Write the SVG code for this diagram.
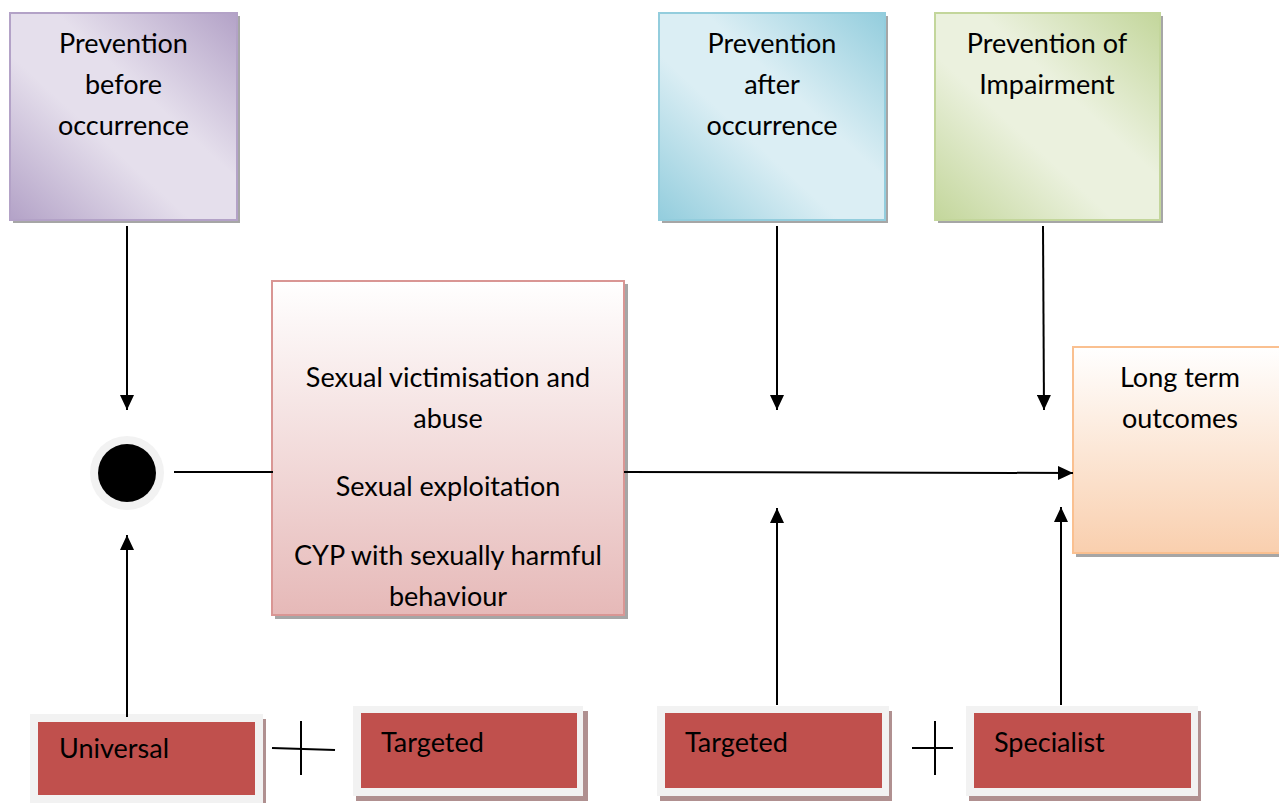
<svg xmlns="http://www.w3.org/2000/svg" width="1279" height="803" viewBox="0 0 1279 803">
<defs>
<linearGradient id="gPurple" x1="0" y1="1" x2="1" y2="0">
<stop offset="0" stop-color="#b3a2c7"/><stop offset="0.4" stop-color="#e5dfec"/><stop offset="0.6" stop-color="#e5dfec"/><stop offset="1" stop-color="#b3a2c7"/>
</linearGradient>
<linearGradient id="gBlue" x1="0" y1="1" x2="1" y2="0">
<stop offset="0" stop-color="#93cddd"/><stop offset="0.4" stop-color="#dbeef4"/><stop offset="0.6" stop-color="#dbeef4"/><stop offset="1" stop-color="#93cddd"/>
</linearGradient>
<linearGradient id="gGreen" x1="0" y1="1" x2="1" y2="0">
<stop offset="0" stop-color="#c3d69b"/><stop offset="0.4" stop-color="#ebf1de"/><stop offset="0.6" stop-color="#ebf1de"/><stop offset="1" stop-color="#c3d69b"/>
</linearGradient>
<linearGradient id="gPink" x1="0" y1="0" x2="0" y2="1">
<stop offset="0" stop-color="#ffffff"/><stop offset="1" stop-color="#e6b9b8"/>
</linearGradient>
<linearGradient id="gOrange" x1="0" y1="0" x2="0" y2="1">
<stop offset="0" stop-color="#ffffff"/><stop offset="1" stop-color="#f9cfae"/>
</linearGradient>
<marker id="arrow" markerUnits="userSpaceOnUse" markerWidth="15" markerHeight="14" refX="15" refY="7" orient="auto">
<path d="M0,0 L15,7 L0,14 Z" fill="#000"/>
</marker>
</defs>
<style>
text{font-family:Lato,"Liberation Sans","DejaVu Sans",sans-serif;font-size:27px;fill:#000}
.c{text-anchor:middle}
.shadow{fill:#a6a6a6}
.rshadow{fill:#b09090}
.frame{fill:#f2f2f2}
.red{fill:#c0504d}
.conn line{stroke:#000;stroke-width:2}
</style>

<g id="node-before">
<rect class="shadow" x="13" y="16" width="227" height="207"/>
<rect x="10" y="13" width="227" height="207" fill="url(#gPurple)" stroke="#b3a2c7" stroke-width="2"/>
<text class="c" x="123.5" y="53">Prevention</text>
<text class="c" x="123.5" y="94">before</text>
<text class="c" x="123.5" y="135">occurrence</text>
</g>

<g id="node-after">
<rect class="shadow" x="662" y="16" width="226" height="207"/>
<rect x="659" y="13" width="226" height="207" fill="url(#gBlue)" stroke="#93cddd" stroke-width="2"/>
<text class="c" x="772" y="53">Prevention</text>
<text class="c" x="772" y="94">after</text>
<text class="c" x="772" y="135">occurrence</text>
</g>

<g id="node-impairment">
<rect class="shadow" x="938" y="16" width="225" height="207"/>
<rect x="935" y="13" width="225" height="207" fill="url(#gGreen)" stroke="#c3d69b" stroke-width="2"/>
<text class="c" x="1047" y="53">Prevention of</text>
<text class="c" x="1047" y="94">Impairment</text>
</g>

<g id="node-junction">
<circle cx="127" cy="473" r="37" fill="#f2f2f2"/>
<circle cx="127" cy="473" r="29" fill="#000"/>
</g>

<g id="node-abuse">
<rect class="shadow" x="275" y="284" width="353" height="335"/>
<rect x="272" y="281" width="352" height="334" fill="url(#gPink)" stroke="#d99694" stroke-width="2"/>
<text class="c" x="448" y="387">Sexual victimisation and</text>
<text class="c" x="448" y="428">abuse</text>
<text class="c" x="448" y="496">Sexual exploitation</text>
<text class="c" x="448" y="565">CYP with sexually harmful</text>
<text class="c" x="448" y="606">behaviour</text>
</g>

<g id="node-outcomes">
<rect class="shadow" x="1076" y="350" width="210" height="207"/>
<rect x="1073" y="347" width="210" height="206" fill="url(#gOrange)" stroke="#fac090" stroke-width="2"/>
<text class="c" x="1180" y="387">Long term</text>
<text class="c" x="1180" y="428">outcomes</text>
</g>

<g id="node-universal">
<rect class="rshadow" x="35" y="719" width="231" height="84"/>
<rect class="frame" x="30" y="714" width="233" height="89"/>
<rect class="red" x="38" y="722" width="217" height="73"/>
<text x="59" y="758">Universal</text>
</g>

<g id="node-targeted1">
<rect class="rshadow" x="356" y="711" width="232" height="90"/>
<rect class="frame" x="353" y="706" width="230" height="90"/>
<rect class="red" x="361" y="713" width="216" height="75"/>
<text x="381" y="752">Targeted</text>
</g>

<g id="node-targeted2">
<rect class="rshadow" x="660" y="711" width="232" height="90"/>
<rect class="frame" x="657" y="706" width="232" height="90"/>
<rect class="red" x="665" y="713" width="217" height="75"/>
<text x="685" y="752">Targeted</text>
</g>

<g id="node-specialist">
<rect class="rshadow" x="969" y="711" width="232" height="90"/>
<rect class="frame" x="966" y="706" width="232" height="90"/>
<rect class="red" x="974" y="713" width="217" height="75"/>
<text x="994" y="752">Specialist</text>
</g>

<g id="connectors" class="conn">
<line x1="127" y1="226" x2="127" y2="410" marker-end="url(#arrow)"/>
<line x1="127" y1="717" x2="127" y2="535" marker-end="url(#arrow)"/>
<line x1="174" y1="472" x2="273" y2="472"/>
<line x1="624" y1="472" x2="1073" y2="473" marker-end="url(#arrow)"/>
<line x1="777" y1="226" x2="777" y2="410" marker-end="url(#arrow)"/>
<line x1="777" y1="705" x2="777" y2="508" marker-end="url(#arrow)"/>
<line x1="1043" y1="226" x2="1044" y2="410" marker-end="url(#arrow)"/>
<line x1="1061" y1="705" x2="1061" y2="507" marker-end="url(#arrow)"/>
<line x1="272" y1="748" x2="335" y2="750"/>
<line x1="301" y1="721" x2="301" y2="775"/>
<line x1="912" y1="748" x2="953" y2="748"/>
<line x1="935" y1="721" x2="935" y2="775"/>
</g>
</svg>
